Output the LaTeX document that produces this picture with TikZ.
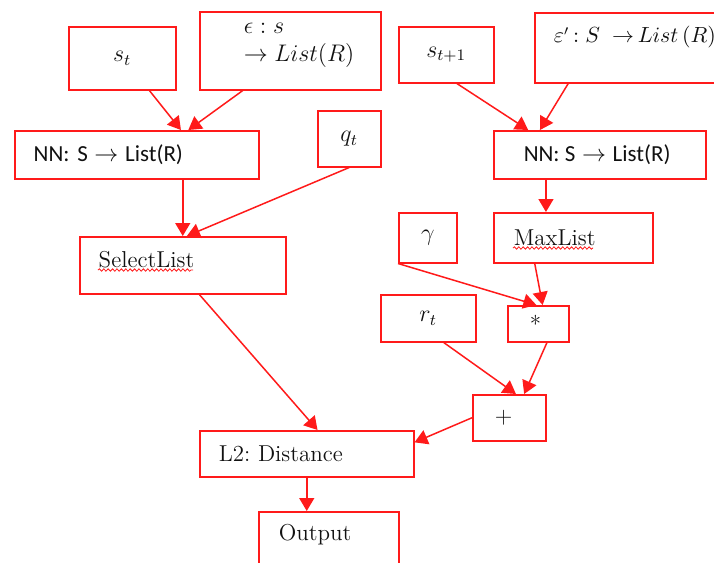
\documentclass[tikz,border=0pt]{standalone}
\usepackage{fontspec}
\newfontfamily\calibri{Carlito}
\usetikzlibrary{positioning, arrows.meta, calc, decorations.pathmorphing}
\definecolor{linered}{HTML}{FF1A1A}
\definecolor{ink}{HTML}{111111}

\begin{document}
\begin{tikzpicture}[
    % one unit = one pixel of the sketch, y runs downwards
    x=0.5pt, y=-0.5pt,
    % red outlined boxes, text centred
    box/.style={
        rectangle,
        draw=linered,
        line width=0.75pt,
        anchor=north west,
        inner sep=0pt,
        align=center,
        text=ink,
        font=\fontsize{11.5}{14}\selectfont
    },
    % boxes whose text starts near the left edge
    leftbox/.style={
        box,
        align=left,
        inner xsep=9.5pt
    },
    arrow/.style={
        -{Triangle[length=6.5pt, width=7.5pt]},
        linered,
        line width=0.75pt
    },
    % spell-check underline
    squiggle/.style={
        linered,
        line width=0.4pt,
        decorate,
        decoration={snake, amplitude=0.6pt, segment length=2.2pt}
    }
]

\useasboundingbox (0,0) rectangle (714,563);
\clip (0,0) rectangle (714,563);

% ==============================
% Left branch: current state
% ==============================
\node[box, minimum width=53.5pt, minimum height=31.5pt] (st) at (68,26) {$s_t$};

\node[leftbox, inner xsep=22pt, text width=46.5pt, minimum height=39pt] (eps) at (199,11) {
    \mbox{$\epsilon : s$} \\
    \mbox{$\rightarrow List(R)$} \\[-6pt]
    \mbox{}
};

\node[leftbox, text width=103pt, minimum height=24pt, font=\fontsize{11.5}{14}\calibri] (nnA) at (14,130) {
    NN: S$\;\rightarrow\;$List(R)
};

\node[box, minimum width=31.5pt, minimum height=28pt] (qt) at (317,110) {$q_t$};

\node[leftbox, text width=84pt, minimum height=28.5pt, text height=8pt, text depth=6pt] (sel) at (79,236) {SelectList};

% ==============================
% Right branch: next state
% ==============================
\node[box, minimum width=47.5pt, minimum height=28pt] (stn) at (398,26) {$s_{t+1}$};

\node[leftbox, text width=81pt, minimum height=35pt, font=\fontsize{10.5}{13}\selectfont] (epsp) at (534,12) {
    \mbox{$\varepsilon'\,{:}\;S\;\;{\rightarrow}\,List\,(R)$} \\
    \mbox{}
};

\node[box, minimum width=106pt, minimum height=24pt, font=\fontsize{11.5}{14}\calibri] (nnB) at (493,130) {
    NN: S$\;\rightarrow\;$List(R)
};

\node[box, minimum width=29pt, minimum height=25pt] (gam) at (398,212) {$\gamma$};

\node[leftbox, inner xsep=10pt, text width=59.5pt, minimum height=25pt] (maxl) at (493,212) {MaxList};

\node[box, minimum width=47.5pt, minimum height=23.5pt] (rt) at (380,294) {$r_t$};

\node[leftbox, inner xsep=11pt, text width=8.5pt, minimum height=18pt] (mul) at (507,305) {*};

\node[leftbox, inner xsep=11pt, text width=14.5pt, minimum height=23pt] (add) at (472,394) {+};

% ==============================
% Bottom: loss
% ==============================
\node[leftbox, text width=88pt, minimum height=23pt] (dist) at (199,430) {L2:\ Distance};

\node[leftbox, inner xsep=10pt, text width=50pt, minimum height=35pt] (out) at (258,511) {
    Output \\
    \mbox{}
};

% spell-check marks under the two made-up words
\draw[squiggle] ($(sel.north west)+(19,34)$) -- ++(95,0);
\draw[squiggle] ($(maxl.north west)+(20,36)$) -- ++(80,0);

% ==============================
% Arrows
% ==============================
\coordinate (maxin) at ($(maxl.north west)!0.33!(maxl.north east)$);

\draw[arrow] ($(st.south west)!0.75!(st.south east)$) -- ($(nnA.north west)!0.68!(nnA.north east)$);
\draw[arrow] ($(eps.south west)!0.24!(eps.south east)$) -- ($(nnA.north west)!0.71!(nnA.north east)$);

\draw[arrow] (sel.north |- nnA.south) -- (sel.north);
\draw[arrow] (qt.south) -- ($(sel.north west)!0.52!(sel.north east)$);

\draw[arrow] ($(stn.south west)!0.61!(stn.south east)$) -- ($(nnB.north west)!0.165!(nnB.north east)$);
\draw[arrow] ($(epsp.south west)!0.17!(epsp.south east)$) -- ($(nnB.north west)!0.22!(nnB.north east)$);

\draw[arrow] (maxin |- nnB.south) -- (maxin);

\draw[arrow] (gam.south west) -- ($(mul.north west)!0.47!(mul.north east)$);
\draw[arrow] ($(maxl.south west)!0.26!(maxl.south east)$) -- ($(mul.north west)!0.57!(mul.north east)$);

\draw[arrow] ($(rt.south west)!0.66!(rt.south east)$) -- ($(add.north west)!0.59!(add.north east)$);
\draw[arrow] ($(mul.south west)!0.64!(mul.south east)$) -- ($(add.north west)!0.70!(add.north east)$);

\draw[arrow] (add.west) -- ($(dist.north east)!0.26!(dist.south east)$);
\draw[arrow] ($(sel.south west)!0.58!(sel.south east)$) -- ($(dist.north west)!0.55!(dist.north east)$);

\draw[arrow] (dist.south) -- (dist.south |- out.north);

\end{tikzpicture}
\end{document}
